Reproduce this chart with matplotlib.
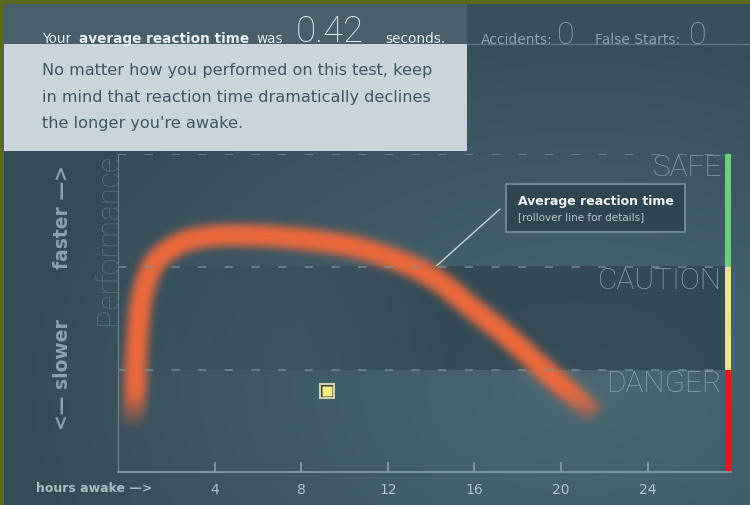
import numpy as np
import matplotlib
import matplotlib.pyplot as plt
from matplotlib.colors import to_rgb
from matplotlib.patches import PathPatch, Rectangle
from matplotlib.path import Path

matplotlib.use("Agg")

# ---- data ----
curve_hours = [0.17, 0.32, 0.40, 0.63, 1.15, 1.94, 3.00, 4.56, 6.10, 7.62,
               9.18, 10.72, 12.87, 14.41, 15.94, 17.49, 19.03, 20.55, 21.55]
curve_perf = [13.5, 23.0, 38.7, 54.4, 64.9, 70.1, 73.3, 74.5, 74.3, 73.6,
              72.3, 70.4, 65.4, 59.7, 51.3, 42.9, 33.4, 24.0, 17.6]

user_hours = [9.18]
user_perf = [25.5]

tick_hours = [4, 8, 12, 16, 20, 24]

zone_names = ["DANGER", "CAUTION", "SAFE"]
zone_low = [0, 32, 64.5]
zone_high = [32, 64.5, 100]
zone_colors = ["#e3171c", "#ede48c", "#6ad17a"]

reaction_time = "0.42"
accidents = "0"
false_starts = "0"

CURVE_COLOR = "#ef6a3c"
THIN = ["Roboto", "DejaVu Sans"]
W, H = 750, 506
XLIM = (-0.46, 27.85)


def smooth_path(x, y):
    """Catmull-Rom curve through the points, as cubic Bezier pieces."""
    p = np.column_stack([x, y])
    n = len(p)
    verts, codes = [p[0]], [Path.MOVETO]
    for i in range(n - 1):
        p0, p1, p2, p3 = p[max(i - 1, 0)], p[i], p[i + 1], p[min(i + 2, n - 1)]
        verts += [p1 + (p2 - p0) / 6, p2 - (p3 - p1) / 6, p2]
        codes += [Path.CURVE4] * 3
    return Path(verts, codes)


def glow(sigma, color, fade=55):
    """agg filter: blur the artist, paint it one colour, fade its lowest part."""
    rgb = np.array(to_rgb(color))
    pad = int(np.ceil(3 * sigma))
    offsets = np.arange(-pad, pad + 1)
    weights = np.exp(-0.5 * (offsets / sigma) ** 2)
    weights /= weights.sum()

    def _filter(im, dpi):
        a = np.pad(im[:, :, 3], pad)
        rows = sum(w * np.roll(a, k, axis=0) for k, w in zip(offsets, weights))
        both = sum(w * np.roll(rows, k, axis=1) for k, w in zip(offsets, weights))
        alive = np.where(both.max(axis=1) > 0.02)[0]
        bottom = alive.max() if len(alive) else both.shape[0]
        r = np.arange(both.shape[0])[:, None]
        s = np.clip((bottom - r) / fade, 0, 1)
        both = both * s * s * (3 - 2 * s)
        out = np.empty(both.shape + (4,), dtype=im.dtype)
        out[:, :, :3] = rgb
        out[:, :, 3] = np.clip(both, 0, 1)
        return out, -pad, -pad

    return _filter


fig = plt.figure(figsize=(W / 100, H / 100), dpi=100, facecolor="#334c58")

# background with a soft spotlight
bg = fig.add_axes([0, 0, 1, 1], zorder=-1)
yy, xx = np.mgrid[0:H, 0:W]
d = np.sqrt(((xx - 580) / 560.0) ** 2 + ((yy - 390) / 380.0) ** 2)
t = np.clip(1 - d, 0, 1)[..., None] ** 0.9
dark = np.array(to_rgb("#334c58"))
light = np.array(to_rgb("#4c6875"))
bg.imshow(dark + (light - dark) * t, extent=(0, W, H, 0), aspect="auto")
bg.set_xlim(0, W)
bg.set_ylim(H, 0)
bg.axis("off")

# main chart axes (pixel box 118..731 x 155..473)
ax = fig.add_axes([118 / W, (H - 473) / H, 613 / W, 318 / H], zorder=1)
ax.set_facecolor("none")

# darker caution band, stronger towards the right
band_x = np.linspace(XLIM[0], XLIM[1], 200)
shade = np.zeros((1, band_x.size, 4))
shade[..., :3] = to_rgb("#2a404b")
shade[..., 3] = np.interp(band_x, [XLIM[0], 8, 15, XLIM[1]], [0.1, 0.25, 0.65, 0.65])
band_right = XLIM[0] + 0.99 * (XLIM[1] - XLIM[0])
ax.imshow(shade, extent=(XLIM[0], band_right, zone_low[1], zone_high[1]),
          aspect="auto", interpolation="bilinear", zorder=0.5)

ax.set_xlim(*XLIM)
ax.set_ylim(0, 100)

for lo, hi, c in zip(zone_low, zone_high, zone_colors):
    ax.axhspan(lo, hi, xmin=0.990, xmax=1.0, color=c, lw=0)
for y in zone_high:
    ax.axhline(y, xmin=0, xmax=0.985, color="#7d95a0", lw=1.2, ls=(0, (5, 11)), alpha=0.8)
for name, hi in zip(zone_names, zone_high):
    ax.annotate(name, xy=(0.9853, hi), xycoords=("axes fraction", "data"),
                xytext=(0, -15), textcoords="offset points", ha="right", va="baseline",
                fontsize=21.5, color="#8ba1ab", family=THIN, fontweight="light")

# blurred performance curve
curve = PathPatch(smooth_path(curve_hours, curve_perf), fill=False, edgecolor=CURVE_COLOR,
                  lw=15.5, capstyle="butt", joinstyle="round", transform=ax.transData)
curve.set_agg_filter(glow(4.5, CURVE_COLOR))
ax.add_patch(curve)

# user's result marker
ax.plot(user_hours, user_perf, "s", ms=10.5, mfc="#2c3a38", mec="#cfd0ab", mew=1.5)
ax.plot(user_hours, user_perf, "s", ms=7, mfc="#f8ef86", mec="none")

# leader line to the callout
ax.annotate("", xy=(14.26, 64.9), xycoords="data", xytext=(500, H - 210),
            textcoords="figure pixels",
            arrowprops=dict(arrowstyle="-", color="#c9d5da", lw=1, shrinkA=0, shrinkB=0))

for side in ("top", "right"):
    ax.spines[side].set_visible(False)
ax.spines["left"].set_color("#6a8490")
ax.spines["bottom"].set_color("#8aa0aa")
ax.spines["bottom"].set_linewidth(1.2)
ax.set_xticks(tick_hours)
ax.set_xticklabels([str(h) for h in tick_hours])
ax.set_yticks([])
ax.tick_params(axis="x", direction="in", length=7, width=1.2, color="#8aa0aa",
               labelcolor="#b3c4cb", labelsize=10, pad=7)

# overlay in pixel coordinates for the page furniture
ov = fig.add_axes([0, 0, 1, 1], zorder=2)
ov.set_facecolor("none")
ov.set_xlim(0, W)
ov.set_ylim(H, 0)
ov.axis("off")

ov.add_patch(Rectangle((0, 0), W, 5, fc="#5a6a1f", lw=0))
ov.add_patch(Rectangle((0, 0), 4, H, fc="#5a6a1f", lw=0))
ov.add_patch(Rectangle((4, 5), 463, 40, fc="#47606b", lw=0))
ov.add_patch(Rectangle((467, 5), W - 467, 40, fc="#36505c", lw=0))
ov.plot([467, W], [45, 45], color="#5d7682", lw=1)
ov.add_patch(Rectangle((4, 45), 463, 107, fc="#c9d5da", lw=0))

hdr = "#e8eff1"
ov.text(42, 43, "Your", color=hdr, fontsize=9.8, va="baseline")
ov.text(79, 43, "average reaction time", color=hdr, fontsize=9.8, fontweight="bold", va="baseline")
ov.text(256, 43, "was", color=hdr, fontsize=9.8, va="baseline")
ov.text(296, 42, reaction_time, color=hdr, fontsize=26.5, va="baseline",
        family=THIN, fontweight="light")
ov.text(385, 43, "seconds.", color=hdr, fontsize=9.8, va="baseline")

stat = "#8fa5af"
ov.text(481, 44, "Accidents:", color=stat, fontsize=10, va="baseline")
ov.text(557, 44, accidents, color=stat, fontsize=23, va="baseline",
        family=THIN, fontweight="light")
ov.text(595, 44, "False Starts:", color=stat, fontsize=10, va="baseline")
ov.text(689, 44, false_starts, color=stat, fontsize=23, va="baseline",
        family=THIN, fontweight="light")

body = ["No matter how you performed on this test, keep",
        "in mind that reaction time dramatically declines",
        "the longer you're awake."]
for line, base in zip(body, [75, 101.7, 128.3]):
    ov.text(42, base, line, color="#3e5864", fontsize=11.6, va="baseline")

ov.text(117, 153, "Performance", rotation=90, rotation_mode="anchor", ha="right", va="baseline",
        color="#58737f", fontsize=22, family=THIN, fontweight="light")
ov.text(63, 217, "faster \u2014>", rotation=90, ha="center", va="center",
        color="#8ca3ae", fontsize=13.5, fontweight="bold")
ov.text(63, 375, "<\u2014 slower", rotation=90, ha="center", va="center",
        color="#8ca3ae", fontsize=13.5, fontweight="bold")
ov.text(36, 489, "hours awake \u2014>", color="#aabcc4", fontsize=9, fontweight="bold", va="center")

ov.add_patch(Rectangle((506, 185), 179, 48, fc="#2e4652", ec="#7b949e", lw=1.2))
ov.text(518, 205, "Average reaction time", color="#f0f4f5", fontsize=9, fontweight="bold", va="baseline")
ov.text(518, 220, "[rollover line for details]", color="#b8c7cd", fontsize=7.5, va="baseline")

fig.savefig("out.png", dpi=100, facecolor=fig.get_facecolor())
